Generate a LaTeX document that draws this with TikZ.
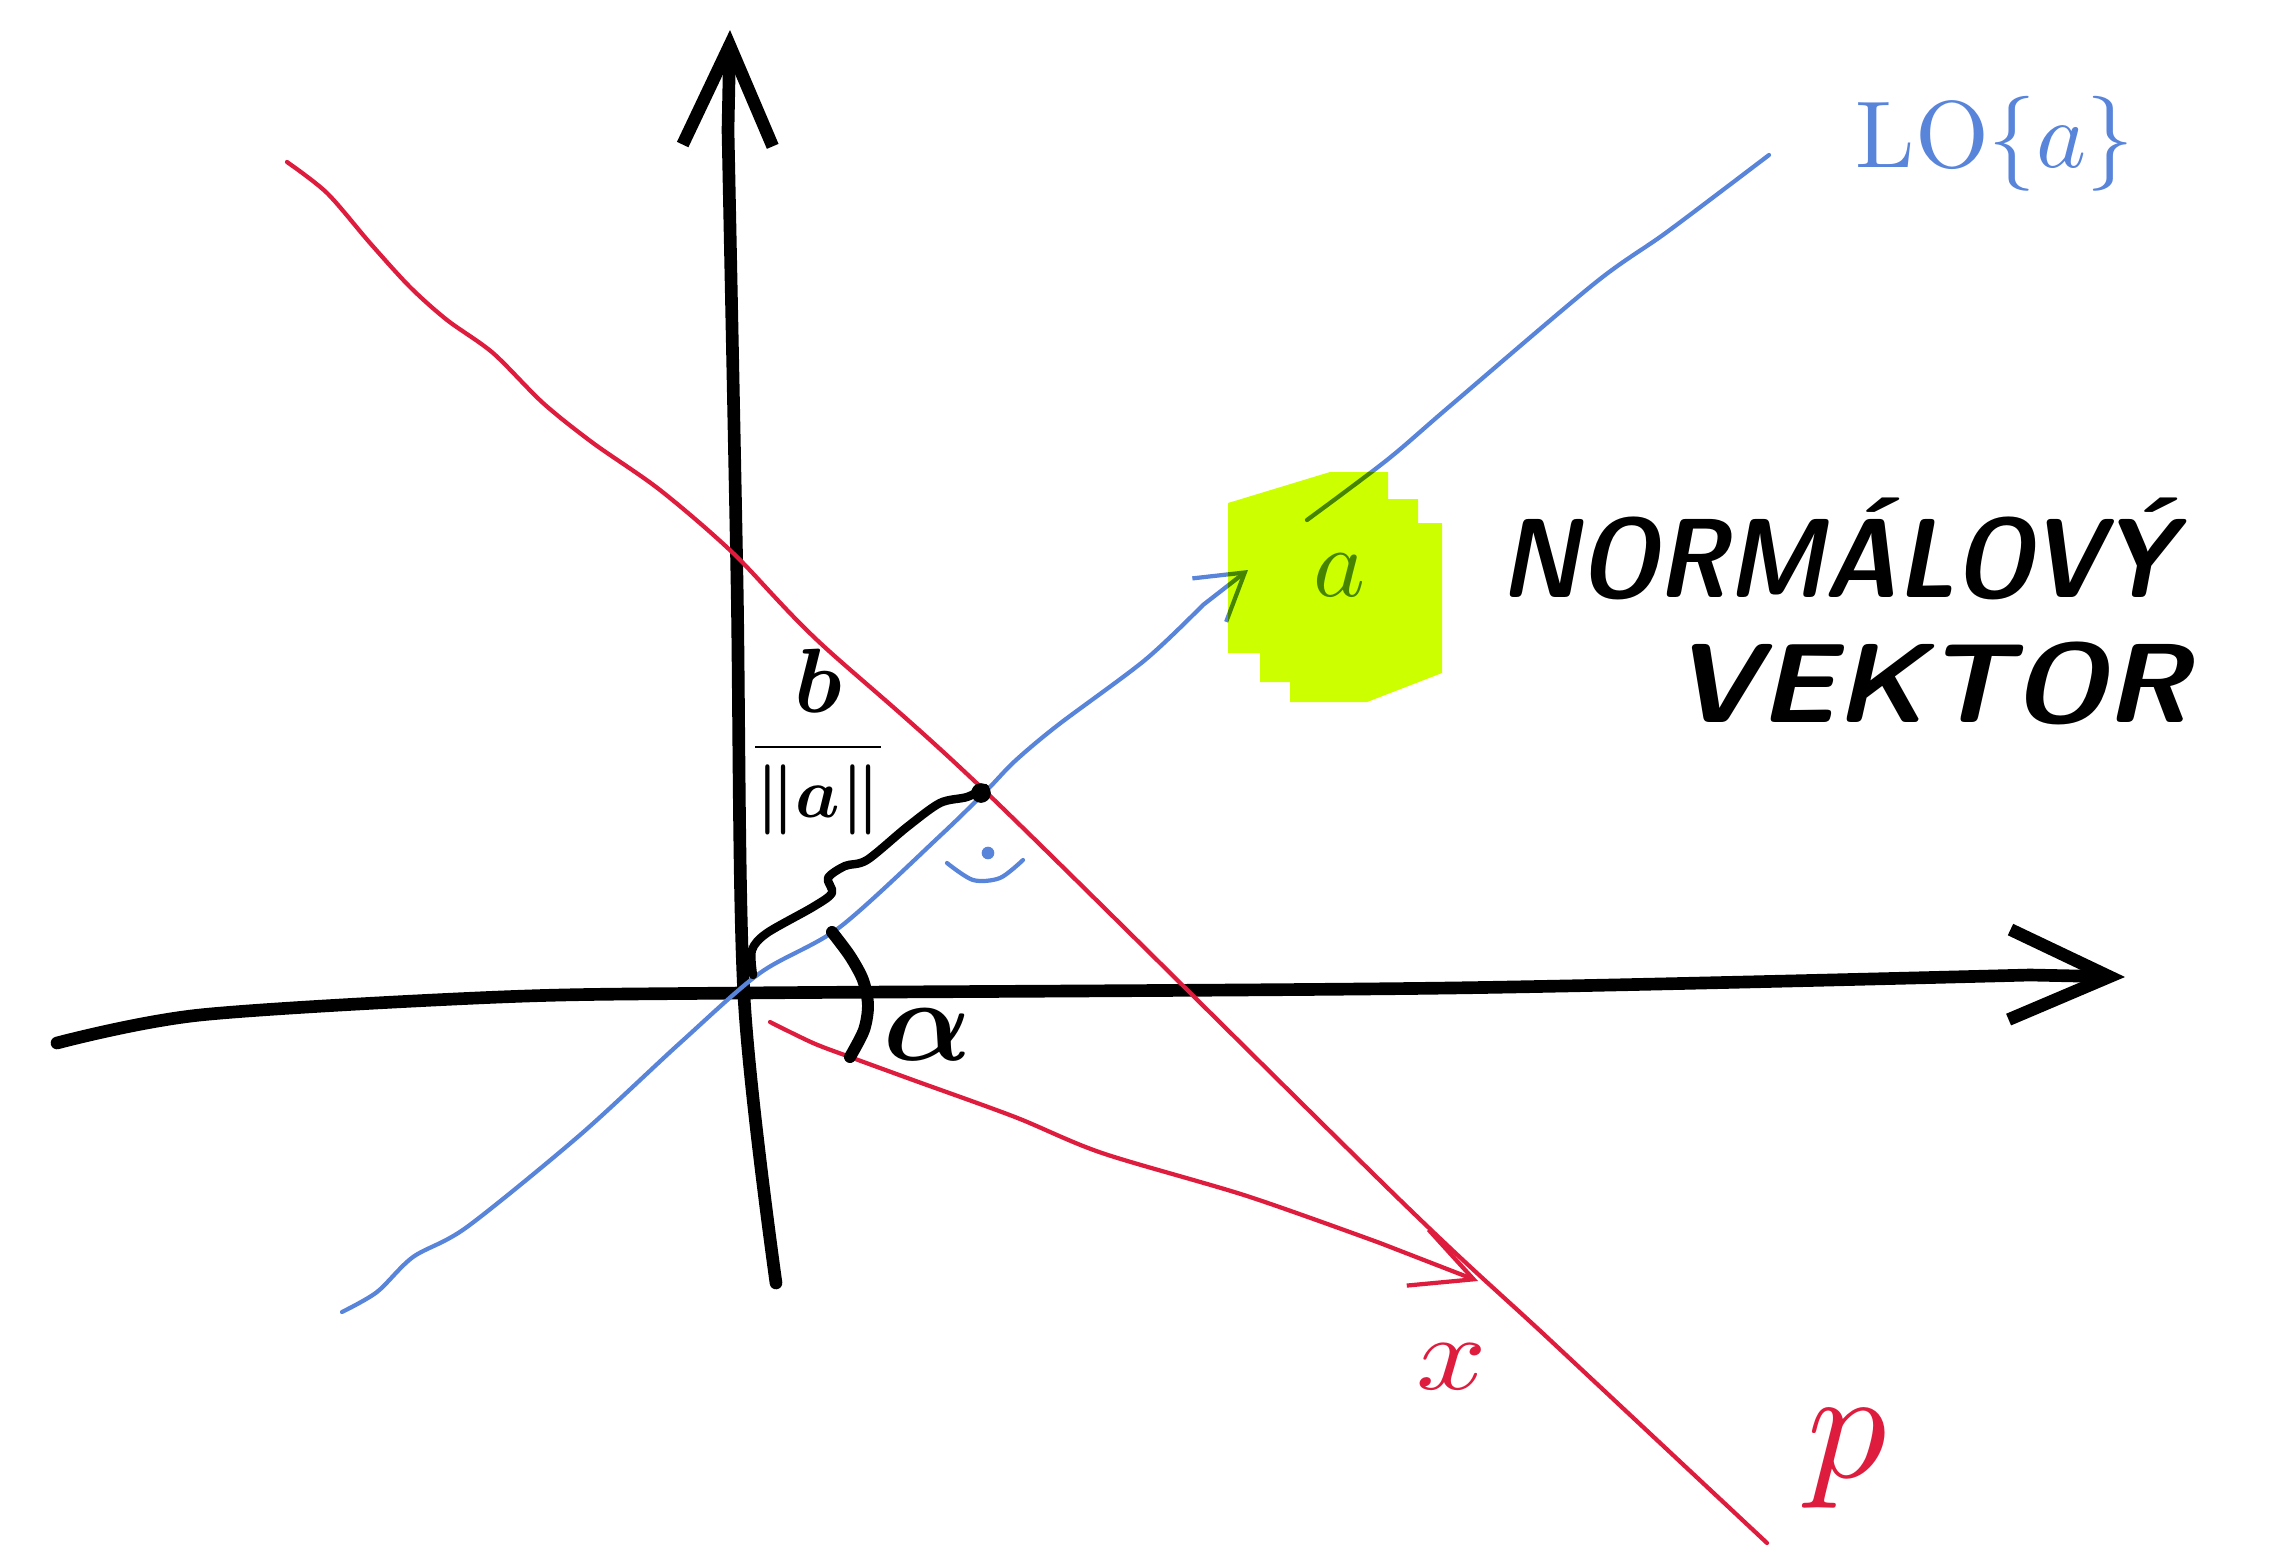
\documentclass[tikz,border=0pt]{standalone}
\usepackage{amsmath,amssymb}
\usepackage{fontspec}
\usepackage{tikz}
\usetikzlibrary{arrows.meta}
\usepackage{xcolor}
\definecolor{penblue}{RGB}{88,132,218}
\definecolor{penred}{RGB}{222,28,62}
\definecolor{marker}{RGB}{204,255,0}

\begin{document}
\begin{tikzpicture}[x=0.01cm,y=-0.01cm,line cap=round,line join=round,
  axis/.style={line width=3.6pt,-{Straight Barb[length=10mm,width=9mm]}},
  bluepen/.style={penblue,line width=1.2pt},
  redpen/.style={penred,line width=1.2pt},
  hand/.style={inner sep=0pt}]
\useasboundingbox (0,0) rectangle (2274,1554);
\draw[axis] plot[smooth] coordinates {(776,1283) (744,996) (737,580) (728,130)} -- (730,30);
\draw[axis] plot[smooth] coordinates {(57,1043) (200,1015) (500,997) (743,993) (1450,988) (2030,975)} -- (2125,977);
\draw[redpen] plot[smooth] coordinates {(287,162) (327,193) (370,243) (410,287) (447,320) (493,353) (543,403) (593,443) (660,490) (733,553) (817,640) (987,793) (1400,1200) (1550,1340) (1767,1543)};
\draw[redpen,-{Straight Barb[length=6mm,width=6mm]}] plot[smooth] coordinates {(770,1022) (813,1043) (850,1057) (913,1080) (1015,1117) (1102,1153) (1247,1196) (1380,1243)} -- (1478,1281);
\draw[bluepen,-{Straight Barb[length=4.5mm,width=5.5mm]}] plot[smooth] coordinates {(342,1312) (377,1292) (413,1257) (467,1227) (580,1135) (680,1043) (760,973) (840,927) (942,834) (987,790) (1015,761) (1058,725) (1145,660) (1203,605)} -- (1248,570);
\draw[bluepen] plot[smooth] coordinates {(1307,520) (1387,460) (1450,406) (1595,283) (1667,232) (1769,155)};
\draw[line width=2.4pt] plot[smooth] coordinates {(753,975) (752,950) (767,933) (813,907) (832,893) (828,878) (845,866) (867,860) (907,827) (940,803) (967,797) (985,788)};
\fill (981,793) circle (2.8pt);
\draw[line width=3.4pt] plot[smooth] coordinates {(832,932) (850,956) (863,980) (868,1005) (864,1030) (850,1057)};
\draw[bluepen] plot[smooth] coordinates {(947,863) (973,880) (1000,878) (1023,860)};
\fill[penblue] (988,853) circle (1.8pt);
\node[hand] (dist) at (818,742) {\scalebox{2}{\boldmath$\dfrac{\raisebox{0pt}{\scalebox{1.3}{$b$}}}{\|a\|}$}};
\node[hand] (angle) at (928,1035) {\scalebox{3.3}{\boldmath$\alpha$}};
\node[hand,penred] (xlab) at (1452,1367) {\scalebox{3.5}[3]{$x$}};
\node[hand,penred] (plab) at (1847,1459) {\scalebox{4.5}{$p$}};
\node[hand,penblue] (alab) at (1340,575) {\scalebox{2.8}{$a$}};
\node[hand,penblue,anchor=base west] (span) at (1855,167) {\scalebox{2.7}{$\mathrm{LO}\{a\}$}};
\node[hand,anchor=base west] (nv1) at (1500,597) {\scalebox{0.88}[1]{\fontsize{32}{36}\selectfont\sffamily\bfseries\slshape NORMÁLOVÝ}};
\node[hand,anchor=base west] (nv2) at (1672,722) {\scalebox{1.05}[1]{\fontsize{32}{36}\selectfont\sffamily\bfseries\slshape VEKTOR}};
\begin{scope}[blend mode=multiply]
\fill[marker] (1228,503) -- (1330,472) -- (1388,472) -- (1388,499) -- (1418,499) -- (1418,523) -- (1442,523) -- (1442,673) -- (1367,702) -- (1290,702) -- (1290,682) -- (1260,682) -- (1260,653) -- (1228,653) -- cycle;
\end{scope}
\end{tikzpicture}
\end{document}
